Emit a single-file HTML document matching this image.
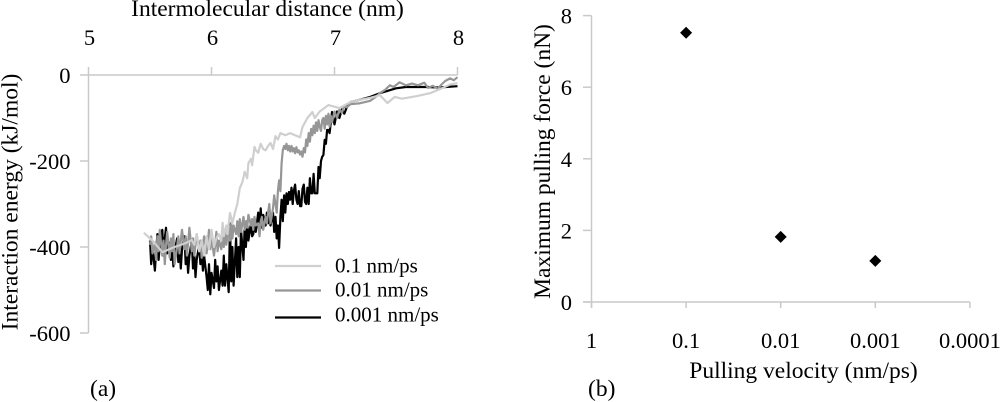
<!DOCTYPE html>
<html>
<head>
<meta charset="utf-8">
<title>Interaction energy and maximum pulling force</title>
<style>
html,body{margin:0;padding:0;background:#fff;}
svg{display:block;}
text{font-family:"Liberation Serif",serif;font-size:22.5px;fill:#000;}
text.title{font-size:23.5px;}
text.legend{font-size:21px;}
</style>
</head>
<body>
<svg id="fig" width="1000" height="402" viewBox="0 0 1000 402" xmlns="http://www.w3.org/2000/svg">
  <g id="panelA"></g>
  <g id="panelB"></g>
  <text class="title" x="267.5" y="16" text-anchor="middle">Intermolecular distance (nm)</text>
  <text class="title" transform="translate(17.5,202) rotate(-90)" text-anchor="middle">Interaction energy (kJ/mol)</text>
  <text class="title" x="90" y="396">(a)</text>
  <text class="title" x="803.5" y="378" text-anchor="middle">Pulling velocity (nm/ps)</text>
  <text class="title" transform="translate(550,161.5) rotate(-90)" text-anchor="middle">Maximum pulling force (nN)</text>
  <text class="title" x="588" y="396">(b)</text>
</svg>
<script>
var distanceTicks = [5, 6, 7, 8];
var energyTicks = [0, -200, -400, -600];
var velocityTicks = ['1', '0.1', '0.01', '0.001', '0.0001'];
var forceTicks = [0, 2, 4, 6, 8];

var seriesNames = ['0.1 nm/ps', '0.01 nm/ps', '0.001 nm/ps'];

var lightDistance = [5.45,5.52,5.60,5.70,5.78,5.84,5.86,5.88,5.90,5.92,5.94,5.96,5.98,6.00,6.02,6.04,6.06,6.08,6.09,6.10,6.12,6.13,6.15,6.17,6.19,6.21,6.23,6.25,6.27,6.29,6.30,6.32,6.33,6.35,6.36,6.38,6.40,6.42,6.44,6.46,6.48,6.50,6.52,6.54,6.56,6.60,6.64,6.68,6.72,6.74,6.78,6.82,6.84,6.88,6.95,7.04,7.13,7.20,7.29,7.37,7.43,7.49,7.55,7.67,7.78,7.88,7.94,8.00];
var lightEnergy = [-367,-385,-412,-400,-392,-384,-395,-370,-410,-385,-420,-375,-405,-360,-400,-380,-370,-385,-344,-375,-350,-370,-321,-345,-320,-300,-263,-250,-225,-240,-205,-195,-210,-167,-175,-181,-160,-172,-175,-165,-158,-172,-142,-150,-135,-140,-135,-140,-145,-121,-100,-86,-100,-85,-70,-77,-63,-58,-53,-47,-65,-51,-55,-49,-42,-30,-22,-19];

var mediumDistance = [
5.50,5.51,5.52,5.54,5.55,5.56,5.57,5.58,5.60,5.61,
5.62,5.63,5.64,5.66,5.67,5.68,5.69,5.70,5.72,5.73,
5.74,5.75,5.76,5.78,5.79,5.80,5.81,5.82,5.84,5.85,
5.86,5.87,5.88,5.90,5.91,5.92,5.93,5.94,5.96,5.97,
5.98,5.99,6.00,6.02,6.03,6.04,6.05,6.06,6.08,6.09,
6.10,6.11,6.12,6.14,6.15,6.16,6.17,6.18,6.20,6.21,
6.22,6.23,6.24,6.26,6.27,6.28,6.29,6.30,6.32,6.33,
6.34,6.35,6.36,6.38,6.39,6.40,6.41,6.42,6.44,6.45,
6.46,6.47,6.48,6.50,6.51,6.52,6.53,6.54,6.55,6.56,
6.57,6.58,6.59,6.60,6.61,6.62,6.63,6.64,6.65,6.66,
6.67,6.68,6.69,6.70,6.71,6.72,6.73,6.74,6.75,6.76,
6.77,6.78,6.79,6.80,6.81,6.82,6.83,6.84,6.85,6.86,
6.87,6.88,6.89,6.90,6.91,6.92,6.93,6.94,6.95,6.96,
6.97,6.98,7.00,7.02,7.04,7.06,7.08,7.10,7.13,7.20,
7.29,7.33,7.37,7.41,7.45,7.48,7.53,7.58,7.63,7.68,7.73,7.76,7.80,7.84,7.87,7.90,7.94,7.97,8.00];
var mediumEnergy = [
-395,-375,-415,-390,-430,-375,-410,-360,-420,-385,
-440,-395,-365,-425,-380,-410,-370,-440,-400,-375,
-415,-385,-360,-405,-375,-420,-390,-355,-410,-380,
-420,-395,-370,-410,-385,-425,-395,-375,-415,-390,
-360,-405,-380,-420,-395,-365,-410,-385,-405,-375,
-400,-365,-395,-350,-385,-345,-380,-350,-370,-340,
-375,-335,-365,-330,-360,-340,-355,-325,-350,-335,
-360,-330,-350,-345,-375,-340,-330,-360,-330,-345,
-320,-300,-345,-310,-280,-300,-320,-270,-245,-270,
-205,-175,-165,-172,-160,-175,-165,-178,-165,-178,
-170,-182,-168,-180,-175,-185,-178,-190,-170,-180,
-150,-165,-135,-155,-125,-140,-118,-135,-110,-130,
-105,-120,-130,-105,-100,-125,-95,-115,-90,-120,
-95,-110,-85,-100,-80,-88,-72,-75,-68,-66,
-60,-52,-42,-35,-24,-28,-17,-24,-20,-24,-18,-30,-25,-32,-22,-14,-8,-12,-5];

var blackDistance = [
5.50,5.51,5.52,5.54,5.55,5.56,5.57,5.58,5.60,5.61,
5.62,5.63,5.64,5.66,5.67,5.68,5.69,5.70,5.72,5.73,
5.74,5.75,5.76,5.78,5.79,5.80,5.81,5.82,5.84,5.85,
5.86,5.87,5.88,5.90,5.91,5.92,5.93,5.94,5.96,5.97,
5.98,5.99,6.00,6.02,6.03,6.04,6.05,6.06,6.08,6.09,
6.10,6.11,6.12,6.14,6.15,6.16,6.17,6.18,6.20,6.21,
6.22,6.23,6.24,6.26,6.27,6.28,6.29,6.30,6.32,6.33,
6.34,6.35,6.36,6.38,6.39,6.40,6.41,6.42,6.44,6.45,
6.46,6.47,6.48,6.50,6.51,6.52,6.53,6.54,6.55,6.56,
6.57,6.58,6.59,6.60,6.61,6.62,6.63,6.64,6.65,6.66,
6.67,6.68,6.69,6.70,6.71,6.72,6.73,6.74,6.75,6.76,
6.77,6.78,6.79,6.80,6.81,6.82,6.83,6.84,6.85,6.86,
6.87,6.88,6.89,6.90,6.91,6.92,6.93,6.94,6.95,6.96,
6.97,6.98,7.00,7.02,7.04,7.06,7.08,7.10,7.13,7.20,
7.29,7.37,7.43,7.50,7.58,7.67,7.75,7.85,8.00];
var blackEnergy = [
-385,-440,-400,-455,-410,-370,-430,-395,-360,-420,
-380,-355,-415,-390,-430,-400,-445,-410,-380,-435,
-400,-450,-405,-375,-440,-410,-460,-420,-385,-450,
-415,-470,-430,-395,-440,-410,-455,-420,-470,-500,
-440,-510,-460,-495,-430,-480,-445,-500,-455,-490,
-420,-490,-440,-505,-345,-480,-400,-490,-380,-470,
-400,-470,-360,-430,-350,-400,-340,-385,-345,-375,
-370,-340,-365,-320,-360,-310,-355,-325,-350,-320,
-345,-310,-350,-320,-365,-330,-380,-350,-402,-330,
-290,-340,-280,-320,-275,-300,-272,-290,-262,-300,
-268,-255,-290,-300,-270,-305,-305,-265,-255,-295,
-300,-262,-300,-240,-275,-275,-230,-275,-275,-275,
-214,-240,-200,-190,-186,-151,-160,-128,-128,-135,
-110,-86,-115,-85,-100,-80,-90,-75,-63,-58,
-51,-42,-37,-31,-28,-28,-28,-29,-26];

var forceVelocities = ['0.1', '0.01', '0.001'];
var forceValues = [7.52, 1.82, 1.15];

var NS = 'http://www.w3.org/2000/svg';
var AXIS = '#c9c9c9';

function xA(d) { return 88.5 + (d - 5) * 123; }
function yA(e) { return 75 - e * 0.43; }
function xB(i) { return 591.5 + i * 94.6; }
function yB(f) { return 302 - f * 35.8; }

function mk(parent, tag, attrs, txt) {
  var el = document.createElementNS(NS, tag);
  for (var k in attrs) { el.setAttribute(k, attrs[k]); }
  if (txt !== undefined) { el.textContent = txt; }
  parent.appendChild(el);
  return el;
}
function pts(ds, es) {
  return ds.map(function (d, i) { return xA(d).toFixed(1) + ',' + yA(es[i]).toFixed(1); }).join(' ');
}

var a = document.getElementById('panelA');
var b = document.getElementById('panelB');
var el;

el = mk(a, 'line', {x1: xA(5), y1: 75, x2: xA(8), y2: 75, stroke: AXIS, 'stroke-width': 1.5});


el = mk(a, 'line', {x1: xA(5), y1: 75, x2: xA(5), y2: yA(-600), stroke: AXIS, 'stroke-width': 1.5});



distanceTicks.forEach(function (d) {
  var t = mk(a, 'line', {x1: xA(d), y1: 67, x2: xA(d), y2: 75, stroke: AXIS, 'stroke-width': 1.5});
  
  
  var l = mk(a, 'text', {x: xA(d) + 1, y: 45, 'text-anchor': 'middle'}, d);
  
  
});
energyTicks.forEach(function (v) {
  var t = mk(a, 'line', {x1: 80, y1: yA(v), x2: xA(5), y2: yA(v), stroke: AXIS, 'stroke-width': 1.5});
  
  
  var l = mk(a, 'text', {x: 70.5, y: yA(v) + 8, 'text-anchor': 'end'}, v);
  
  
});

el = mk(a, 'polyline', {points: pts(blackDistance, blackEnergy), fill: 'none', stroke: '#000', 'stroke-width': 2.2, 'stroke-linejoin': 'round'});


el = mk(a, 'polyline', {points: pts(mediumDistance, mediumEnergy), fill: 'none', stroke: '#969696', 'stroke-width': 2.2, 'stroke-linejoin': 'round'});


el = mk(a, 'polyline', {points: pts(lightDistance, lightEnergy), fill: 'none', stroke: '#cfcfcf', 'stroke-width': 2.2, 'stroke-linejoin': 'round'});



var swatchColors = ['#cfcfcf', '#969696', '#000'];
var swatchRows = [266, 290.5, 317.5];
var legendBaselines = [272.5, 296.5, 321.5];
seriesNames.forEach(function (n, i) {
  var s = mk(a, 'line', {x1: 275, y1: swatchRows[i], x2: 321, y2: swatchRows[i], stroke: swatchColors[i], 'stroke-width': 2.2});
  
  
  var l = mk(a, 'text', {x: 335, y: legendBaselines[i], 'class': 'legend'}, n);
  
  
});

el = mk(b, 'line', {x1: 583, y1: yB(0), x2: xB(4), y2: yB(0), stroke: AXIS, 'stroke-width': 1.5});


el = mk(b, 'line', {x1: xB(0), y1: yB(8), x2: xB(0), y2: 308, stroke: AXIS, 'stroke-width': 1.5});



velocityTicks.forEach(function (v, i) {
  var t = mk(b, 'line', {x1: xB(i), y1: 302, x2: xB(i), y2: 308, stroke: AXIS, 'stroke-width': 1.5});
  
  
  var l = mk(b, 'text', {x: xB(i), y: 348, 'text-anchor': 'middle'}, v);
  
  
});
forceTicks.forEach(function (v) {
  var t = mk(b, 'line', {x1: 583, y1: yB(v), x2: xB(0), y2: yB(v), stroke: AXIS, 'stroke-width': 1.5});
  
  
  var l = mk(b, 'text', {x: 572, y: yB(v) + 8, 'text-anchor': 'end'}, v);
  
  
});

forceValues.forEach(function (f, i) {
  var idx = velocityTicks.indexOf(forceVelocities[i]);
  var cx = xB(idx), cy = yB(f);
  var m = mk(b, 'polygon', {points: (cx - 6) + ',' + cy + ' ' + cx + ',' + (cy - 6) + ' ' + (cx + 6) + ',' + cy + ' ' + cx + ',' + (cy + 6), fill: '#000'});
  
  
});
</script>
</body>
</html>
